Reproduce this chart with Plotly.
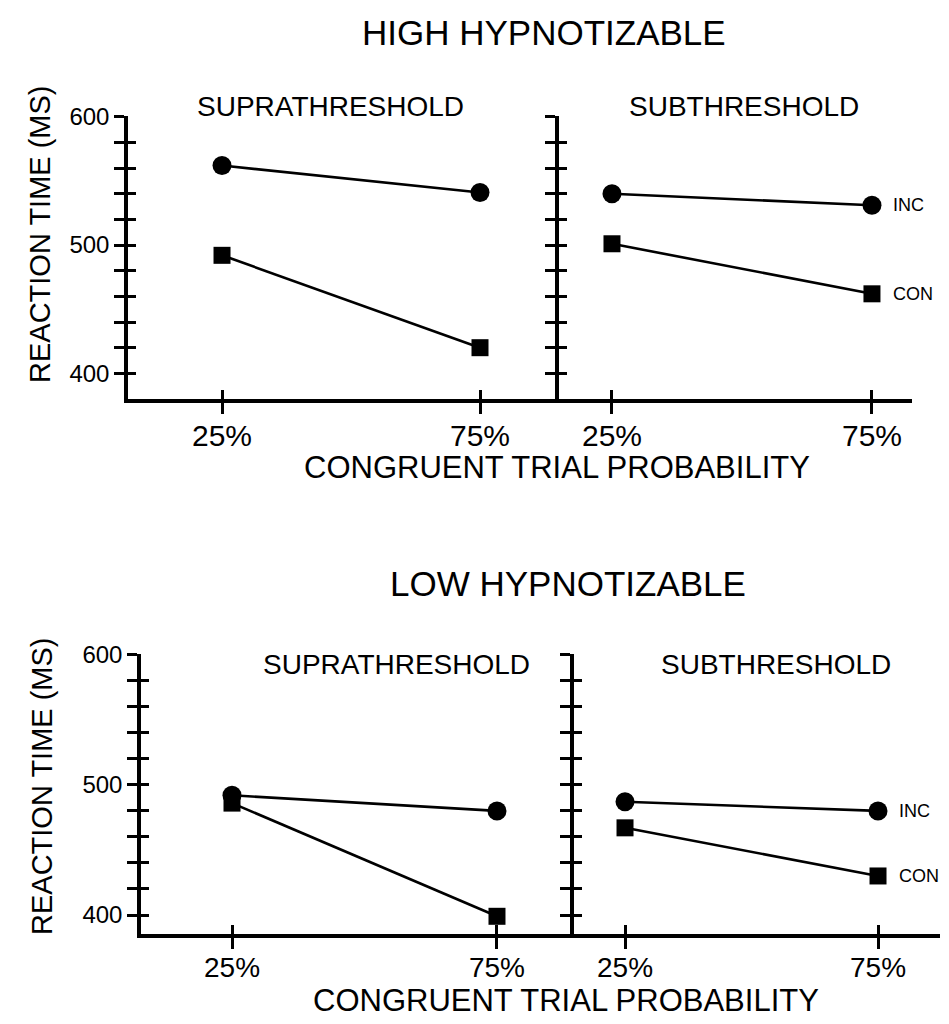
import plotly.graph_objects as go

# ---------------- data ----------------
probabilities = [25, 75]
prob_labels = ["25%", "75%"]
rt_ticks = [400, 420, 440, 460, 480, 500, 520, 540, 560, 580, 600]
rt_tick_labels = ["400", "", "", "", "", "500", "", "", "", "", "600"]

high_supra_inc = [562, 541]
high_supra_con = [492, 420]
high_sub_inc = [540, 531]
high_sub_con = [501, 462]

low_supra_inc = [492, 480]
low_supra_con = [486, 399]
low_sub_inc = [487, 480]
low_sub_con = [467, 430]

# figure sized for the window minus the default 8px body margin
W, H = 941, 1016
FONT = "Liberation Sans, Arial, sans-serif"


def fx(p):
    return p / W


def fy(p):
    return 1 - p / H


# subplot specs: (x domain px, x range, y domain px (top,bottom), y range, inc, con,
#                 labels on y, x label standoff, x tick font size)
subplots = [
    ((120, 551), [6.78, 90.31], (108, 391), [380, 600.6], high_supra_inc, high_supra_con, True, -4, 30),
    ((551, 904), [14.81, 82.7], (108, 391), [380, 600.6], high_sub_inc, high_sub_con, False, -4, 30),
    ((133, 566), [7.83, 89.53], (646, 926), [385.4, 600.6], low_supra_inc, low_supra_con, True, -5, 28),
    ((566, 932), [14.92, 87.25], (646, 926), [385.4, 600.6], low_sub_inc, low_sub_con, False, -5, 28),
]

fig = go.Figure()
layout = {}

for i, (xd, xr, yd, yr, inc, con, ylab, xstand, xfs) in enumerate(subplots, start=1):
    o = i + 4
    layout[f"xaxis{i}"] = dict(
        domain=[fx(xd[0]), fx(xd[1])], range=xr, anchor=f"y{i}",
        showline=True, linewidth=3.5, linecolor="black",
        ticks="outside", ticklen=11, tickwidth=2.5, tickcolor="black",
        tickvals=probabilities, ticktext=prob_labels,
        tickfont=dict(family=FONT, size=xfs, color="black"),
        ticklabelstandoff=xstand,
        showgrid=False, zeroline=False, fixedrange=True, automargin=False,
    )
    layout[f"yaxis{i}"] = dict(
        domain=[fy(yd[1]), fy(yd[0])], range=yr, anchor=f"x{i}",
        showline=True, linewidth=3.5, linecolor="black",
        ticks="outside", ticklen=10, tickwidth=2.5, tickcolor="black",
        tickvals=rt_ticks, ticktext=rt_tick_labels if ylab else [""] * len(rt_ticks),
        showticklabels=ylab,
        tickfont=dict(family=FONT, size=24, color="black"),
        showgrid=False, zeroline=False, fixedrange=True, automargin=False,
    )
    layout[f"xaxis{o}"] = dict(
        overlaying=f"x{i}", range=xr, anchor=f"y{o}", side="bottom",
        showline=False, ticks="inside", ticklen=9, tickwidth=2.5, tickcolor="black",
        tickvals=probabilities, showticklabels=False,
        showgrid=False, zeroline=False, fixedrange=True, automargin=False,
    )
    layout[f"yaxis{o}"] = dict(
        overlaying=f"y{i}", range=yr, anchor=f"x{o}", side="left",
        showline=False, ticks="inside", ticklen=8, tickwidth=2.5, tickcolor="black",
        tickvals=rt_ticks, showticklabels=False,
        showgrid=False, zeroline=False, fixedrange=True, automargin=False,
    )
    fig.add_trace(go.Scatter(
        x=probabilities, y=inc, mode="lines+markers", xaxis=f"x{i}", yaxis=f"y{i}",
        line=dict(color="black", width=2.6),
        marker=dict(symbol="circle", size=19, color="black"),
        cliponaxis=False, showlegend=False, hoverinfo="skip",
    ))
    fig.add_trace(go.Scatter(
        x=probabilities, y=con, mode="lines+markers", xaxis=f"x{o}", yaxis=f"y{o}",
        line=dict(color="black", width=2.6),
        marker=dict(symbol="square", size=17, color="black"),
        cliponaxis=False, showlegend=False, hoverinfo="skip",
    ))

annotations = []


def txt(text, x, y, size, family=FONT, angle=0):
    annotations.append(dict(
        text=text, x=fx(x), y=fy(y), xref="paper", yref="paper",
        xanchor="center", yanchor="middle", showarrow=False, textangle=angle,
        font=dict(family=family, size=size, color="black"),
    ))


# panel titles
txt("HIGH HYPNOTIZABLE", 536, 25, 35)
txt("LOW HYPNOTIZABLE", 560, 575, 35)
# condition titles
txt("SUPRATHRESHOLD", 322, 98, 28)
txt("SUBTHRESHOLD", 736, 98, 28)
txt("SUPRATHRESHOLD", 388, 656, 28)
txt("SUBTHRESHOLD", 768, 656, 28)
# x titles
txt("CONGRUENT TRIAL PROBABILITY", 549, 459, 31)
txt("CONGRUENT TRIAL PROBABILITY", 558, 992, 31)
# y titles
txt("REACTION TIME (MS)", 32, 226, 29, angle=-90)
txt("REACTION TIME (MS)", 34, 778, 29, angle=-90)

# series labels next to final points of subthreshold panels
for axi, inc, con in [(2, high_sub_inc, high_sub_con), (4, low_sub_inc, low_sub_con)]:
    annotations.append(dict(
        text="INC", x=probabilities[-1], y=inc[-1], xref=f"x{axi}", yref=f"y{axi}",
        xanchor="left", yanchor="middle", xshift=19, showarrow=False,
        font=dict(family=FONT, size=18, color="black"),
    ))
    annotations.append(dict(
        text="CON", x=probabilities[-1], y=con[-1], xref=f"x{axi}", yref=f"y{axi}",
        xanchor="left", yanchor="middle", xshift=19, showarrow=False,
        font=dict(family=FONT, size=18, color="black"),
    ))

fig.update_layout(
    width=W, height=H,
    margin=dict(l=0, r=0, t=0, b=0, autoexpand=False),
    paper_bgcolor="white", plot_bgcolor="rgba(0,0,0,0)",
    showlegend=False,
    annotations=annotations,
    font=dict(family=FONT, color="black"),
    **layout,
)

fig.write_html("out.html", config={"displayModeBar": False})
